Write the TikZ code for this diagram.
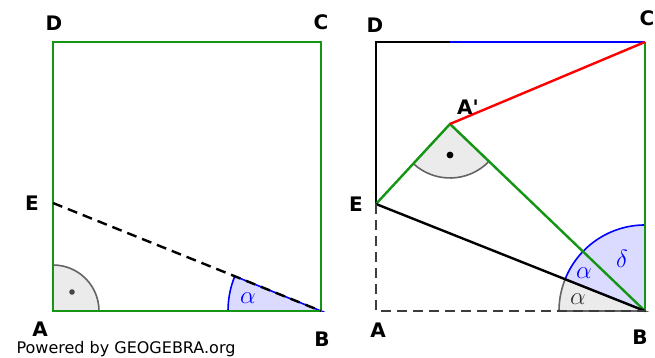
\documentclass[tikz,border=0pt]{standalone}
\usepackage{fontspec}
\setmainfont{DejaVu Sans}
\usepackage{xcolor}
\definecolor{ggreen}{RGB}{20,150,20}
\definecolor{gblue}{RGB}{0,0,255}
\definecolor{gred}{RGB}{255,0,0}
\definecolor{ggray}{RGB}{100,100,100}

\begin{document}
\begin{tikzpicture}[x=1pt, y=1pt, line width=2.4pt,
    lbl/.style={font=\fontsize{20}{22}\selectfont\bfseries, inner sep=0pt},
    greek/.style={font=\fontsize{27}{28}\selectfont, inner sep=0pt},
    dashline/.style={dash pattern=on 10pt off 6pt},
    rightmark/.style={fill=black!8, draw=ggray, line width=1.6pt},
    anglemark/.style={fill=gblue!14, draw=gblue, line width=1.6pt}]
  \useasboundingbox (0, 0) rectangle (655, 358);
  % left square
  \coordinate (A1) at (53, 47);
  \coordinate (B1) at (321, 47);
  \coordinate (C1) at (321, 316);
  \coordinate (D1) at (53, 316);
  \coordinate (E1) at (53, 155);
  % right square
  \coordinate (A2) at (376, 47);
  \coordinate (B2) at (645, 47);
  \coordinate (C2) at (645, 316);
  \coordinate (D2) at (376, 316);
  \coordinate (E2) at (376, 154);
  \coordinate (A3) at (450, 234);
  \coordinate (F2) at (450, 316);

  \filldraw[rightmark] (A1) -- ++(0:46) arc[start angle=0, end angle=90, radius=46] -- cycle;
  \filldraw[anglemark] (B1) -- ++(158.05:93) arc[start angle=158.05, end angle=180, radius=93] -- cycle;
  \filldraw[rightmark] (A3) -- ++(227.2:54) arc[start angle=227.2, end angle=316.2, radius=54] -- cycle;
  \filldraw[rightmark] (B2) -- ++(158.3:86) arc[start angle=158.3, end angle=180, radius=86] -- cycle;
  \filldraw[anglemark] (B2) -- ++(90:86) arc[start angle=90, end angle=158.3, radius=86] -- cycle;

  \draw[ggreen] (A1) -- (B1) -- (C1) -- (D1) -- cycle;
  \draw[dashline] (E1) to (B1);

  \draw[black] (E2) -- (D2) -- (F2);
  \draw[gblue] (F2) to (C2);
  \draw[ggreen] (C2) to (B2);
  \draw[ggreen] (E2) -- (A3) -- (B2);
  \draw[gred] (A3) to (C2);
  \draw[black] (E2) to (B2);
  \draw[dashline, ggray!60!black] (E2) -- (A2) -- (B2);

  \fill[ggray!70!black] (72, 66) circle (2.8);
  \fill (450, 203) circle (3.4);

  \node[greek, text=gblue] (alpha1) at (248, 60) {$\alpha$};
  \node[greek, text=gblue] (alpha2) at (584, 85) {$\alpha$};
  \node[greek, text=black!80] (alpha3) at (578, 59) {$\alpha$};
  \node[greek, text=gblue] (delta) at (622, 99) {$\delta$};

  \node[lbl] (lA1) at (40, 29) {A};
  \node[lbl] (lB1) at (322, 19) {B};
  \node[lbl] (lC1) at (321, 336) {C};
  \node[lbl] (lD1) at (54, 335) {D};
  \node[lbl] (lE1) at (32, 155) {E};
  \node[lbl] (lA2) at (378, 28) {A};
  \node[lbl] (lB2) at (640, 21) {B};
  \node[lbl] (lC2) at (647, 340) {C};
  \node[lbl] (lD2) at (375, 333) {D};
  \node[lbl] (lE2) at (356, 154) {E};
  \node[lbl] (lA3) at (468, 251) {A\textquotesingle};
  \node[inner sep=0pt, font=\fontsize{16}{18}\selectfont] (brand) at (126, 9) {Powered by GEOGEBRA.org};
\end{tikzpicture}
\end{document}
